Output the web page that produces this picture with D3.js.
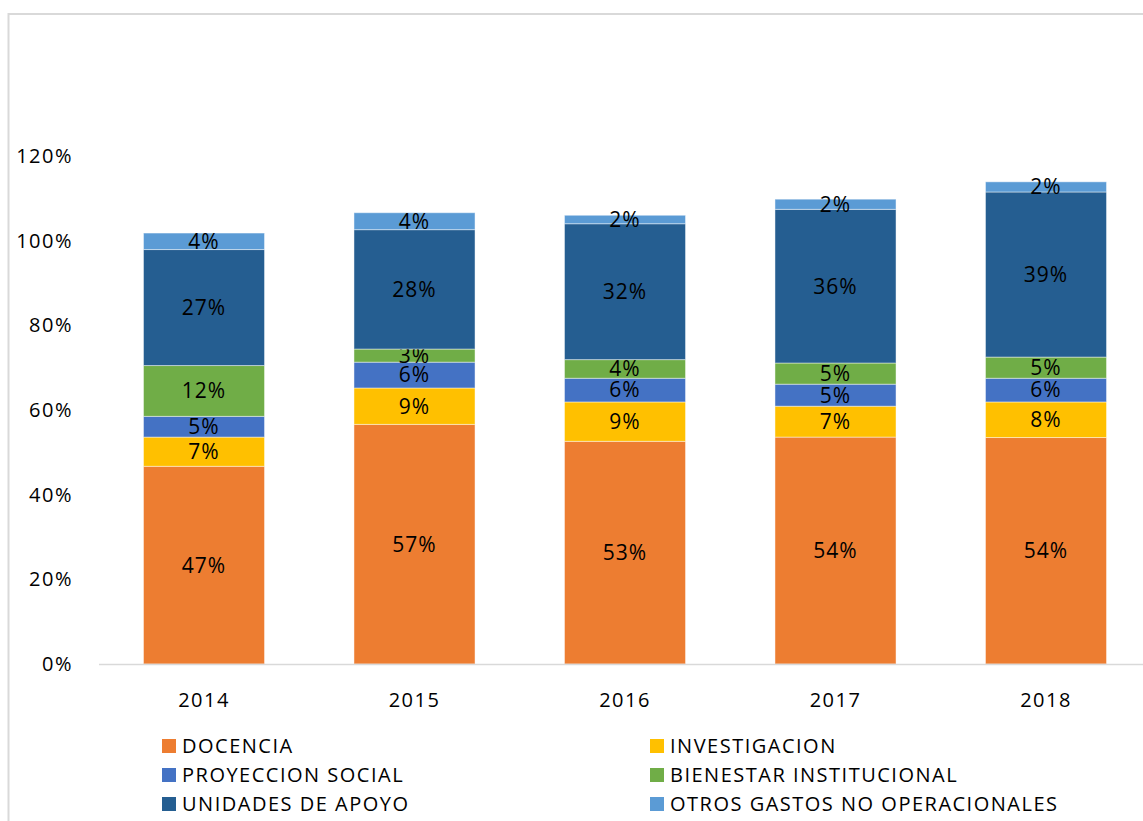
<!DOCTYPE html>
<html>
<head>
<meta charset="utf-8">
<script src="https://cdn.jsdelivr.net/npm/d3@7"></script>
<style>
  body { margin: 0; background: #fff; }
  svg { display: block; font-family: "Open Sans", Lato, sans-serif; }
</style>
</head>
<body>
<div id="chart"></div>
<script>
// Data (shares of total, in %)
const years = ['2014', '2015', '2016', '2017', '2018'];
const seriesNames = ['DOCENCIA', 'INVESTIGACION', 'PROYECCION SOCIAL', 'BIENESTAR INSTITUCIONAL', 'UNIDADES DE APOYO', 'OTROS GASTOS NO OPERACIONALES'];
const docencia = [46.7, 56.6, 52.6, 53.6, 53.5];
const investigacion = [6.9, 8.6, 9.3, 7.3, 8.4];
const proyeccion = [4.9, 6.1, 5.6, 5.2, 5.6];
const bienestar = [12.0, 3.1, 4.4, 5.0, 5.0];
const unidades = [27.4, 28.2, 32.1, 36.3, 39.0];
const otros = [3.9, 4.0, 2.0, 2.4, 2.4];
const yTicks = [0, 20, 40, 60, 80, 100, 120];
const colors = ['#ED7D31', '#FFC000', '#4472C4', '#70AD47', '#255E91', '#5B9BD5'];

const allSeries = [docencia, investigacion, proyeccion, bienestar, unidades, otros];
const rows = years.map((yr, i) => {
  const r = { year: yr };
  seriesNames.forEach((s, j) => { r[s] = allSeries[j][i]; });
  return r;
});

const width = 1143, height = 821;
const svg = d3.select('#chart').append('svg')
  .attr('width', width)
  .attr('height', height);

// outer chart frame (cropped at right and bottom)
svg.append('rect')
  .attr('x', 8.5).attr('y', 14)
  .attr('width', width + 20).attr('height', height + 20)
  .attr('fill', 'none')
  .attr('stroke', '#d9d9d9')
  .attr('stroke-width', 2);

const x = d3.scaleBand()
  .domain(years)
  .range([98.75, 1151.25])
  .paddingInner(0.425)
  .paddingOuter(0.2125);

const y = d3.scaleLinear()
  .domain([0, 120])
  .range([664, 156]);

const stack = d3.stack().keys(seriesNames)(rows);

// y tick labels
svg.append('g')
  .selectAll('text')
  .data(yTicks)
  .join('text')
  .attr('x', 73)
  .attr('y', d => y(d))
  .attr('dy', '0.35em')
  .attr('text-anchor', 'end')
  .style('font-size', '20px')
  .style('letter-spacing', '1.5px')
  .style('fill', '#000')
  .text(d => d + '%');

// bars
const layers = svg.append('g')
  .selectAll('g')
  .data(stack)
  .join('g')
  .attr('fill', (d, i) => colors[i]);

layers.selectAll('rect')
  .data(d => d)
  .join('rect')
  .attr('x', d => x(d.data.year))
  .attr('width', x.bandwidth())
  .attr('y', d => y(d[1]))
  .attr('height', d => y(d[0]) - y(d[1]))
  .attr('stroke', 'rgba(255,255,255,0.45)')
  .attr('stroke-width', 1);

// x axis line
svg.append('line')
  .attr('x1', 99).attr('x2', width)
  .attr('y1', y(0) + 0.5).attr('y2', y(0) + 0.5)
  .attr('stroke', '#d9d9d9')
  .attr('stroke-width', 1.5);

// year labels
svg.append('g')
  .selectAll('text')
  .data(years)
  .join('text')
  .attr('x', d => x(d) + x.bandwidth() / 2)
  .attr('y', 700)
  .attr('dy', '0.35em')
  .attr('text-anchor', 'middle')
  .style('font-size', '20px')
  .style('letter-spacing', '1.5px')
  .text(d => d);

// data labels
layers.selectAll('text')
  .data(d => d)
  .join('text')
  .attr('x', d => x(d.data.year) + x.bandwidth() / 2)
  .attr('y', d => (y(d[0]) + y(d[1])) / 2)
  .attr('dy', '0.35em')
  .attr('text-anchor', 'middle')
  .attr('fill', '#000')
  .style('font-size', '21px')
  .style('letter-spacing', '1px')
  .text(d => Math.round(d[1] - d[0]) + '%');

// legend, two columns
const legend = svg.append('g')
  .selectAll('g')
  .data(seriesNames)
  .join('g')
  .attr('transform', (d, i) => `translate(${i % 2 === 0 ? 162 : 650},${746 + Math.floor(i / 2) * 29})`);

legend.append('rect')
  .attr('x', 0).attr('y', -7)
  .attr('width', 14).attr('height', 14)
  .attr('fill', (d, i) => colors[i]);

legend.append('text')
  .attr('x', 20)
  .attr('dy', '0.36em')
  .style('font-size', '20px')
  .style('letter-spacing', '1.5px')
  .text(d => d);
</script>
</body>
</html>
